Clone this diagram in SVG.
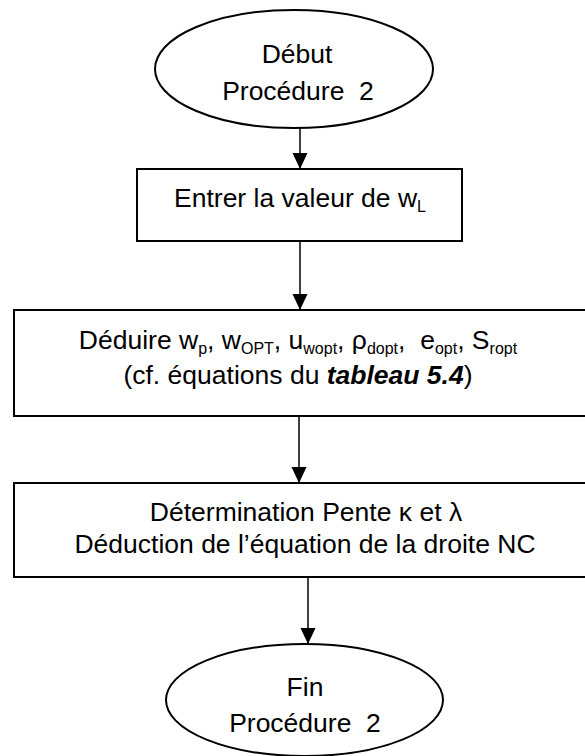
<svg xmlns="http://www.w3.org/2000/svg" width="585" height="756" viewBox="0 0 585 756">
<defs>
<marker id="arr" markerWidth="16" markerHeight="16" refX="16" refY="7.5" orient="auto" markerUnits="userSpaceOnUse">
<path d="M0,0 L16,7.5 L0,15 Z" fill="#000"/>
</marker>
<style>
.shape{fill:#fff;stroke:#000;stroke-width:2}
.t{font-family:"Liberation Sans",Arial,sans-serif;font-size:26.5px;fill:#000;text-anchor:middle}
.sub{font-size:16px}
.conn{stroke:#000;stroke-width:1.5;fill:none;marker-end:url(#arr)}
</style>
</defs>
<rect width="585" height="756" fill="#fff"/>
<g id="connectors">
<line class="conn" x1="300" y1="128" x2="300" y2="169"/>
<line class="conn" x1="300" y1="241" x2="300" y2="310"/>
<line class="conn" x1="299" y1="416" x2="299" y2="483"/>
<line class="conn" x1="308" y1="577" x2="308" y2="644"/>
</g>
<g id="start">
<ellipse class="shape" cx="294" cy="69" rx="139" ry="59"/>
<text class="t" x="297" y="63">Début</text>
<text class="t" x="298" y="100" xml:space="preserve">Procédure  2</text>
</g>
<g id="input">
<rect class="shape" x="137" y="169" width="325" height="72"/>
<text class="t" x="300" y="207">Entrer la valeur de w<tspan class="sub" dy="5">L</tspan></text>
</g>
<g id="deduce">
<rect class="shape" x="14" y="310" width="574" height="106"/>
<text class="t" x="298" y="349" xml:space="preserve">Déduire w<tspan class="sub" dy="5">p</tspan><tspan dy="-5">, w</tspan><tspan class="sub" dy="5">OPT</tspan><tspan dy="-5">, u</tspan><tspan class="sub" dy="5">wopt</tspan><tspan dy="-5">, ρ</tspan><tspan class="sub" dy="5">dopt</tspan><tspan dy="-5">,  e</tspan><tspan class="sub" dy="5">opt</tspan><tspan dy="-5">, S</tspan><tspan class="sub" dy="5">ropt</tspan></text>
<text class="t" x="298" y="384">(cf. équations du <tspan font-weight="bold" font-style="italic">tableau 5.4</tspan>)</text>
</g>
<g id="slope">
<rect class="shape" x="14" y="483" width="574" height="94"/>
<text class="t" x="306" y="521">Détermination Pente κ et λ</text>
<text class="t" x="305" y="553">Déduction de l’équation de la droite NC</text>
</g>
<g id="end">
<ellipse class="shape" cx="304.5" cy="700" rx="138.5" ry="56"/>
<text class="t" x="305" y="696">Fin</text>
<text class="t" x="305" y="732" xml:space="preserve">Procédure  2</text>
</g>
</svg>
